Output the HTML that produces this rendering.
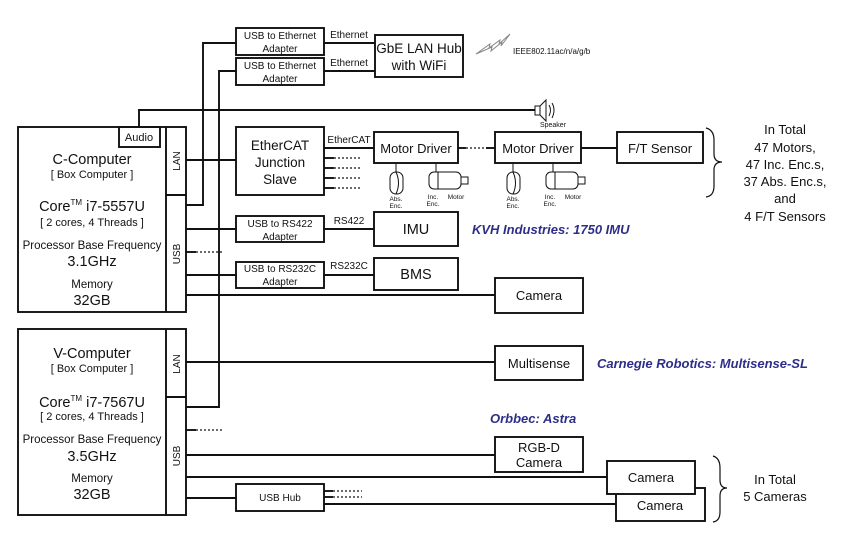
<!DOCTYPE html>
<html><head><meta charset="utf-8"><style>
body{margin:0;background:#fff}
svg{display:block;font-family:"Liberation Sans",Arial,sans-serif}
</style></head><body>
<svg width="868" height="536" viewBox="0 0 868 536" xmlns="http://www.w3.org/2000/svg">
<g fill="none" stroke="#111" stroke-width="1.9">
<rect x="18" y="127" width="168" height="185"/>
<line x1="166" y1="127" x2="166" y2="312"/>
<line x1="166" y1="195" x2="186" y2="195"/>
<rect x="119" y="127" width="41" height="20"/>
<rect x="18" y="329" width="168" height="186"/>
<line x1="166" y1="329" x2="166" y2="515"/>
<line x1="166" y1="397" x2="186" y2="397"/>
<rect x="236" y="28" width="88" height="27"/>
<rect x="236" y="58" width="88" height="27"/>
<rect x="375" y="35" width="88" height="42"/>
<rect x="236" y="127" width="88" height="68"/>
<rect x="374" y="132" width="84" height="31"/>
<rect x="495" y="132" width="86" height="31"/>
<rect x="617" y="132" width="86" height="31"/>
<rect x="236" y="216" width="88" height="26"/>
<rect x="374" y="212" width="84" height="34"/>
<rect x="236" y="262" width="88" height="26"/>
<rect x="374" y="258" width="84" height="32"/>
<rect x="495" y="278" width="88" height="35"/>
<rect x="495" y="346" width="88" height="34"/>
<rect x="495" y="437" width="88" height="35"/>
<rect x="616" y="488" width="89" height="33"/>
<rect x="607" y="461" width="88" height="33" fill="#fff"/>
<rect x="236" y="484" width="88" height="27"/>
<polyline points="186,205 203,205 203,43 236,43"/>
<polyline points="186,407 219,407 219,71 236,71"/>
<line x1="324" y1="43" x2="375" y2="43"/>
<line x1="324" y1="71" x2="375" y2="71"/>
<polyline points="139,127 139,110 535,110"/>
<line x1="186" y1="160" x2="236" y2="160"/>
<line x1="324" y1="148" x2="374" y2="148"/>
<line x1="581" y1="148" x2="617" y2="148"/>
<line x1="458" y1="148" x2="466" y2="148"/>
<line x1="486" y1="148" x2="495" y2="148"/>
<line x1="186" y1="229" x2="236" y2="229"/>
<line x1="324" y1="229" x2="374" y2="229"/>
<line x1="186" y1="275" x2="236" y2="275"/>
<line x1="324" y1="275" x2="374" y2="275"/>
<line x1="186" y1="295" x2="495" y2="295"/>
<line x1="186" y1="362" x2="495" y2="362"/>
<line x1="186" y1="455" x2="495" y2="455"/>
<line x1="186" y1="477" x2="607" y2="477"/>
<line x1="186" y1="498" x2="236" y2="498"/>
<line x1="324" y1="504" x2="616" y2="504"/>
<line x1="324" y1="491" x2="333" y2="491"/>
<line x1="324" y1="497" x2="333" y2="497"/>
<line x1="324" y1="158" x2="334" y2="158"/>
<line x1="324" y1="168" x2="334" y2="168"/>
<line x1="324" y1="178" x2="334" y2="178"/>
<line x1="324" y1="188" x2="334" y2="188"/>
<line x1="186" y1="252" x2="196" y2="252"/>
<line x1="186" y1="430" x2="196" y2="430"/>
<path d="M706,128 Q714,130 714,140 L714,154 Q714,162 722,162 Q714,162 714,170 L714,186 Q714,196 706,197" stroke-width="1.2"/>
<path d="M713,456 Q720,458 720,468 L720,480 Q720,488 727,488 Q720,488 720,496 L720,512 Q720,521 713,522" stroke-width="1.2"/>
<g stroke-width="1">
<line x1="396" y1="163" x2="396" y2="172"/><line x1="436" y1="163" x2="436" y2="172"/>
<line x1="513" y1="163" x2="513" y2="172"/><line x1="553" y1="163" x2="553" y2="172"/>
<rect x="390" y="172" width="13" height="22" rx="6"/><path d="M396,172 Q401,183 396,194"/>
<rect x="507" y="172" width="13" height="22" rx="6"/><path d="M513,172 Q518,183 513,194"/>
<rect x="429" y="172" width="32" height="17" rx="5"/><line x1="438" y1="172" x2="438" y2="189"/><rect x="461" y="177" width="7" height="7"/>
<rect x="546" y="172" width="32" height="17" rx="5"/><line x1="555" y1="172" x2="555" y2="189"/><rect x="578" y="177" width="7" height="7"/>
<rect x="535" y="106" width="5" height="9"/><path d="M540,106 L546,100 L546,121 L540,115"/>
<path d="M549,105 Q552,110 549,116"/><path d="M552,103 Q556,110 552,118"/>
<path d="M476,54 L490,44 L489,48 L500,40 L499,44 L510,34 L501,46 L502,42 L491,51 L492,47 Z" stroke="#888"/>
</g>
</g>
<g stroke="#111" stroke-width="1.2" stroke-dasharray="2,2">
<line x1="334" y1="158" x2="362" y2="158"/><line x1="334" y1="168" x2="362" y2="168"/>
<line x1="334" y1="178" x2="362" y2="178"/><line x1="334" y1="188" x2="362" y2="188"/>
<line x1="196" y1="252" x2="224" y2="252"/><line x1="196" y1="430" x2="224" y2="430"/>
<line x1="466" y1="148" x2="486" y2="148"/>
<line x1="333" y1="491" x2="362" y2="491"/><line x1="333" y1="497" x2="362" y2="497"/>
</g>
<g fill="#111" text-anchor="middle">
<text x="139" y="141" font-size="11">Audio</text>
<text x="92" y="164" font-size="14.5">C-Computer</text>
<text x="92" y="178" font-size="11">[ Box Computer ]</text>
<text x="92" y="211" font-size="14.5">Core<tspan font-size="8" dy="-6">TM</tspan><tspan dy="6"> i7-5557U</tspan></text>
<text x="92" y="226" font-size="11">[ 2 cores, 4 Threads ]</text>
<text x="92" y="249" font-size="11.5">Processor Base Frequency</text>
<text x="92" y="266" font-size="14.5">3.1GHz</text>
<text x="92" y="288" font-size="11.5">Memory</text>
<text x="92" y="305" font-size="14.5">32GB</text>
<text transform="translate(180,161) rotate(-90)" font-size="10">LAN</text>
<text transform="translate(180,254) rotate(-90)" font-size="10">USB</text>
<text x="92" y="358" font-size="14.5">V-Computer</text>
<text x="92" y="372" font-size="11">[ Box Computer ]</text>
<text x="92" y="407" font-size="14.5">Core<tspan font-size="8" dy="-6">TM</tspan><tspan dy="6"> i7-7567U</tspan></text>
<text x="92" y="420" font-size="11">[ 2 cores, 4 Threads ]</text>
<text x="92" y="443" font-size="11.5">Processor Base Frequency</text>
<text x="92" y="461" font-size="14.5">3.5GHz</text>
<text x="92" y="482" font-size="11.5">Memory</text>
<text x="92" y="499" font-size="14.5">32GB</text>
<text transform="translate(180,364) rotate(-90)" font-size="10">LAN</text>
<text transform="translate(180,456) rotate(-90)" font-size="10">USB</text>
<text x="280" y="39" font-size="10">USB to Ethernet</text>
<text x="280" y="52" font-size="10">Adapter</text>
<text x="280" y="69" font-size="10">USB to Ethernet</text>
<text x="280" y="82" font-size="10">Adapter</text>
<text x="349" y="38" font-size="10">Ethernet</text>
<text x="349" y="66" font-size="10">Ethernet</text>
<text x="419" y="53" font-size="13.5">GbE LAN Hub</text>
<text x="419" y="70" font-size="13.5">with WiFi</text>
<text x="553" y="127" font-size="7">Speaker</text>
<text x="280" y="150" font-size="13.5">EtherCAT</text>
<text x="280" y="167" font-size="13.5">Junction</text>
<text x="280" y="184" font-size="13.5">Slave</text>
<text x="349" y="143" font-size="10">EtherCAT</text>
<text x="416" y="153" font-size="13">Motor Driver</text>
<text x="538" y="153" font-size="13">Motor Driver</text>
<text x="660" y="153" font-size="13">F/T Sensor</text>
<g font-size="6.5"><text x="396" y="201">Abs.</text><text x="396" y="208">Enc.</text>
<text x="433" y="199">Inc.</text><text x="433" y="206">Enc.</text><text x="456" y="199">Motor</text>
<text x="513" y="201">Abs.</text><text x="513" y="208">Enc.</text>
<text x="550" y="199">Inc.</text><text x="550" y="206">Enc.</text><text x="573" y="199">Motor</text></g>
<text x="785" y="134" font-size="13">In Total</text>
<text x="785" y="152" font-size="13">47 Motors,</text>
<text x="785" y="169" font-size="13">47 Inc. Enc.s,</text>
<text x="785" y="186" font-size="13">37 Abs. Enc.s,</text>
<text x="785" y="203" font-size="13">and</text>
<text x="785" y="221" font-size="13">4 F/T Sensors</text>
<text x="280" y="227" font-size="10">USB to RS422</text>
<text x="280" y="240" font-size="10">Adapter</text>
<text x="349" y="224" font-size="10">RS422</text>
<text x="416" y="234" font-size="14.5">IMU</text>
<text x="280" y="272" font-size="10">USB to RS232C</text>
<text x="280" y="285" font-size="10">Adapter</text>
<text x="349" y="269" font-size="10">RS232C</text>
<text x="416" y="279" font-size="14.5">BMS</text>
<text x="539" y="300" font-size="13">Camera</text>
<text x="539" y="368" font-size="13">Multisense</text>
<text x="539" y="452" font-size="13">RGB-D</text>
<text x="539" y="467" font-size="13">Camera</text>
<text x="651" y="482" font-size="13">Camera</text>
<text x="660" y="510" font-size="13">Camera</text>
<text x="280" y="501" font-size="10">USB Hub</text>
<text x="775" y="484" font-size="13">In Total</text>
<text x="775" y="501" font-size="13">5 Cameras</text>
</g>
<text x="513" y="54" font-size="8" fill="#111">IEEE802.11ac/n/a/g/b</text>
<g fill="#2e2e8a" font-weight="bold" font-style="italic" font-size="13">
<text x="472" y="234">KVH Industries: 1750 IMU</text>
<text x="597" y="368">Carnegie Robotics: Multisense-SL</text>
<text x="490" y="423">Orbbec: Astra</text>
</g>
</svg>
</body></html>
